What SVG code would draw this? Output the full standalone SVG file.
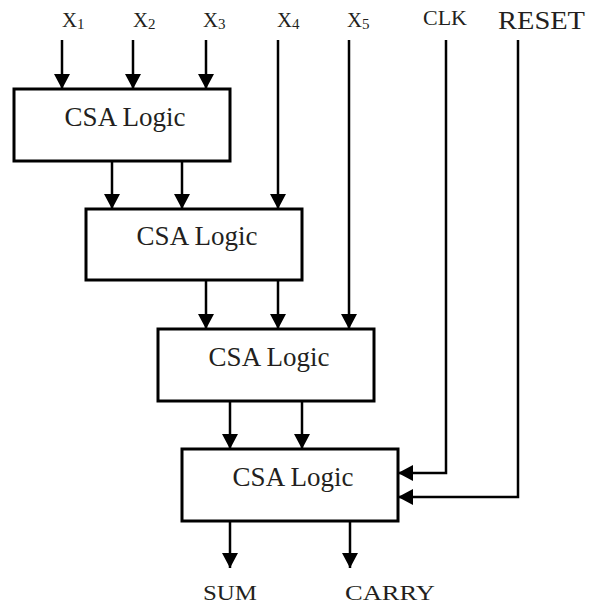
<svg xmlns="http://www.w3.org/2000/svg" width="589" height="605" viewBox="0 0 589 605">
<style>
.box{fill:#fff;stroke:#000;stroke-width:3}
.lbl{font-family:"Liberation Serif","Times New Roman",serif;fill:#231f20}
.inner{font-size:27px;text-anchor:middle}
.io{font-size:21px}
.sub{font-size:15px}
.wire{fill:none;stroke:#000;stroke-width:2.5}
</style>
<defs>
<marker id="ah" markerUnits="userSpaceOnUse" markerWidth="15" markerHeight="16" refX="15" refY="8" orient="auto">
<path d="M0,0 L15,8 L0,16 z" fill="#000"/>
</marker>
</defs>
<rect width="589" height="605" fill="#fff"/>
<g id="labels">
<text class="lbl io" x="62" y="27"><tspan textLength="15" lengthAdjust="spacingAndGlyphs">X</tspan><tspan class="sub" dy="2">1</tspan></text>
<text class="lbl io" x="133" y="27"><tspan textLength="15" lengthAdjust="spacingAndGlyphs">X</tspan><tspan class="sub" dy="2">2</tspan></text>
<text class="lbl io" x="203" y="27"><tspan textLength="15" lengthAdjust="spacingAndGlyphs">X</tspan><tspan class="sub" dy="2">3</tspan></text>
<text class="lbl io" x="277" y="27"><tspan textLength="15" lengthAdjust="spacingAndGlyphs">X</tspan><tspan class="sub" dy="2">4</tspan></text>
<text class="lbl io" x="347" y="27"><tspan textLength="15" lengthAdjust="spacingAndGlyphs">X</tspan><tspan class="sub" dy="2">5</tspan></text>
<text class="lbl" x="423" y="25" font-size="20" textLength="44" lengthAdjust="spacingAndGlyphs">CLK</text>
<text class="lbl" x="498" y="29" font-size="25" textLength="87" lengthAdjust="spacingAndGlyphs">RESET</text>
<text class="lbl" x="203" y="600" font-size="20" textLength="54" lengthAdjust="spacingAndGlyphs">SUM</text>
<text class="lbl" x="345" y="600" font-size="20" textLength="90" lengthAdjust="spacingAndGlyphs">CARRY</text>
</g>
<g id="csa1">
<rect class="box" x="14" y="89" width="216" height="72"/>
<text class="lbl inner" x="125" y="126">CSA Logic</text>
</g>
<g id="csa2">
<rect class="box" x="86" y="209" width="216" height="71"/>
<text class="lbl inner" x="197" y="245">CSA Logic</text>
</g>
<g id="csa3">
<rect class="box" x="158" y="329" width="216" height="72"/>
<text class="lbl inner" x="269" y="366">CSA Logic</text>
</g>
<g id="csa4">
<rect class="box" x="182" y="449" width="216" height="72"/>
<text class="lbl inner" x="293" y="486">CSA Logic</text>
</g>
<g id="connectors">
<path class="wire" d="M62,40 V89" marker-end="url(#ah)"/>
<path class="wire" d="M133,40 V89" marker-end="url(#ah)"/>
<path class="wire" d="M206,40 V89" marker-end="url(#ah)"/>
<path class="wire" d="M112,161 V209" marker-end="url(#ah)"/>
<path class="wire" d="M182,161 V209" marker-end="url(#ah)"/>
<path class="wire" d="M278,40 V209" marker-end="url(#ah)"/>
<path class="wire" d="M206,280 V329" marker-end="url(#ah)"/>
<path class="wire" d="M278,280 V329" marker-end="url(#ah)"/>
<path class="wire" d="M349,40 V329" marker-end="url(#ah)"/>
<path class="wire" d="M230,401 V449" marker-end="url(#ah)"/>
<path class="wire" d="M302,401 V449" marker-end="url(#ah)"/>
<path class="wire" d="M446,40 V473 H398" marker-end="url(#ah)"/>
<path class="wire" d="M518,40 V497 H398" marker-end="url(#ah)"/>
<path class="wire" d="M230,521 V568" marker-end="url(#ah)"/>
<path class="wire" d="M350,521 V568" marker-end="url(#ah)"/>
</g>
</svg>
